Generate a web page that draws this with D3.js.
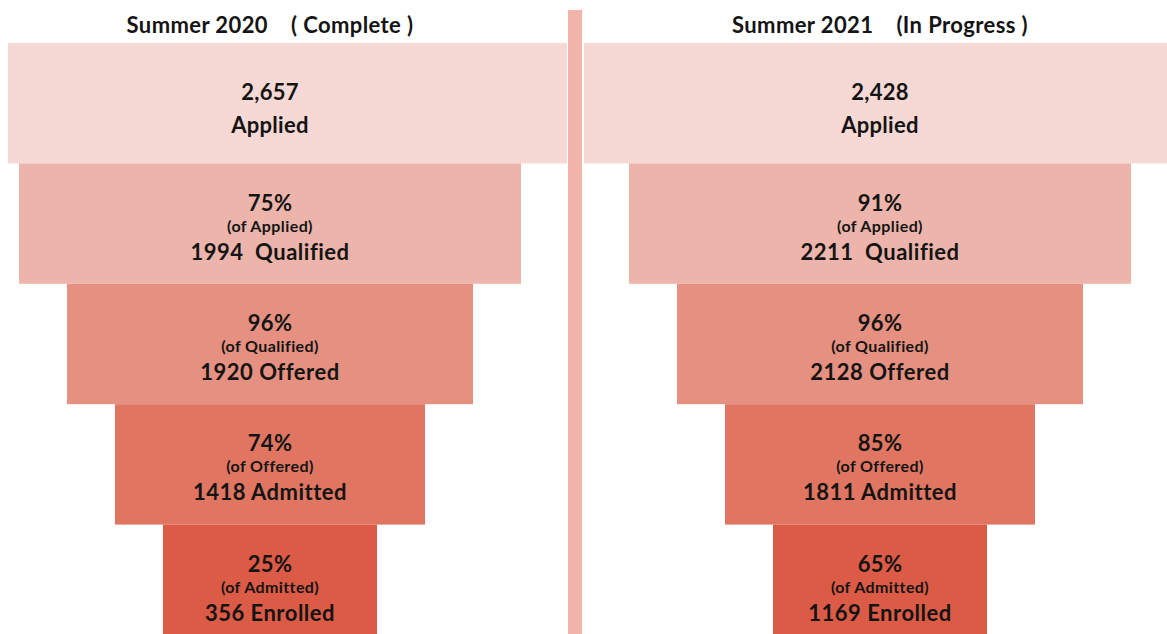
<!DOCTYPE html>
<html lang="en">
<head>
<meta charset="UTF-8">
<title>Summer funnel</title>
<script src="https://cdn.jsdelivr.net/npm/d3@7"></script>
<style>
  html, body { margin: 0; padding: 0; background: #fff; }
  text { font-family: Lato, "Open Sans", sans-serif; font-weight: 700; fill: #141414; white-space: pre; }
</style>
</head>
<body>
<script>
// data
var stages = ["Applied", "Qualified", "Offered", "Admitted", "Enrolled"];
var ofLabels = [null, "(of Applied)", "(of Qualified)", "(of Offered)", "(of Admitted)"];
var titles = ["Summer 2020    ( Complete )", "Summer 2021    (In Progress )"];
var counts2020 = [2657, 1994, 1920, 1418, 356];
var counts2021 = [2428, 2211, 2128, 1811, 1169];
var pct2020 = [null, 75, 96, 74, 25];
var pct2021 = [null, 91, 96, 85, 65];
var stageNames = ["Applied", "  Qualified", " Offered", " Admitted", " Enrolled"];

var palette = ["#f6d8d4", "#ecb4aa", "#e59080", "#e07662", "#dc5b46"];

var W = 1167, H = 634;

var svg = d3.select("body").append("svg")
    .attr("width", W)
    .attr("height", H);

// vertical bands, one per stage
var y = d3.scaleBand()
    .domain(stages)
    .range([43, 645]);

// funnel width shrinks evenly by stage
var wScale = d3.scaleLinear()
    .domain([0, 4])
    .range([598, 214]);

var panels = [
  {x0: 8,   x1: 567,  cx: 270, title: titles[0], counts: counts2020, pct: pct2020},
  {x0: 584, x1: 1167, cx: 880, title: titles[1], counts: counts2021, pct: pct2021}
];

// divider between the two funnels
svg.append("rect")
    .attr("x", 568)
    .attr("y", 10)
    .attr("width", 14)
    .attr("height", H - 10)
    .attr("fill", "#f0b4ab");

var fmt = d3.format(",");

function label(sel, x, yy, size, txt, ls) {
  return sel.append("text")
    .attr("x", x).attr("y", yy)
    .attr("text-anchor", "middle")
    .style("font-size", size + "px")
    .style("letter-spacing", (ls || 0) + "px")
    .text(txt);
}

panels.forEach(function(p) {
  var g = svg.append("g");

  label(g, p.cx, 33, 22, p.title, 0.4);

  var tiers = g.selectAll(".tier")
    .data(stages.map(function(s, i) {
      return {stage: s, i: i, count: p.counts[i], pct: p.pct[i]};
    }))
    .enter()
    .append("g")
    .attr("class", "tier");

  tiers.append("rect")
    .attr("x", function(d) { return Math.max(p.x0, p.cx - wScale(d.i) / 2); })
    .attr("width", function(d) {
      var l = Math.max(p.x0, p.cx - wScale(d.i) / 2);
      var r = Math.min(p.x1, p.cx + wScale(d.i) / 2);
      return r - l;
    })
    .attr("y", function(d) { return y(d.stage); })
    .attr("height", y.bandwidth())
    .attr("fill", function(d) { return palette[d.i]; });

  tiers.each(function(d) {
    var t = d3.select(this);
    var c = y(d.stage) + y.bandwidth() / 2;
    if (d.i === 0) {
      label(t, p.cx, c - 3, 22, fmt(d.count), 0.3);
      label(t, p.cx, c + 30, 22, stageNames[0], 0.3);
    } else {
      label(t, p.cx, c - 13, 22, d.pct + "%", 0.3);
      label(t, p.cx, c + 8, 16, ofLabels[d.i], 0.4);
      label(t, p.cx, c + 36, 22, d.count + stageNames[d.i], 0.5);
    }
  });
});
</script>
</body>
</html>
